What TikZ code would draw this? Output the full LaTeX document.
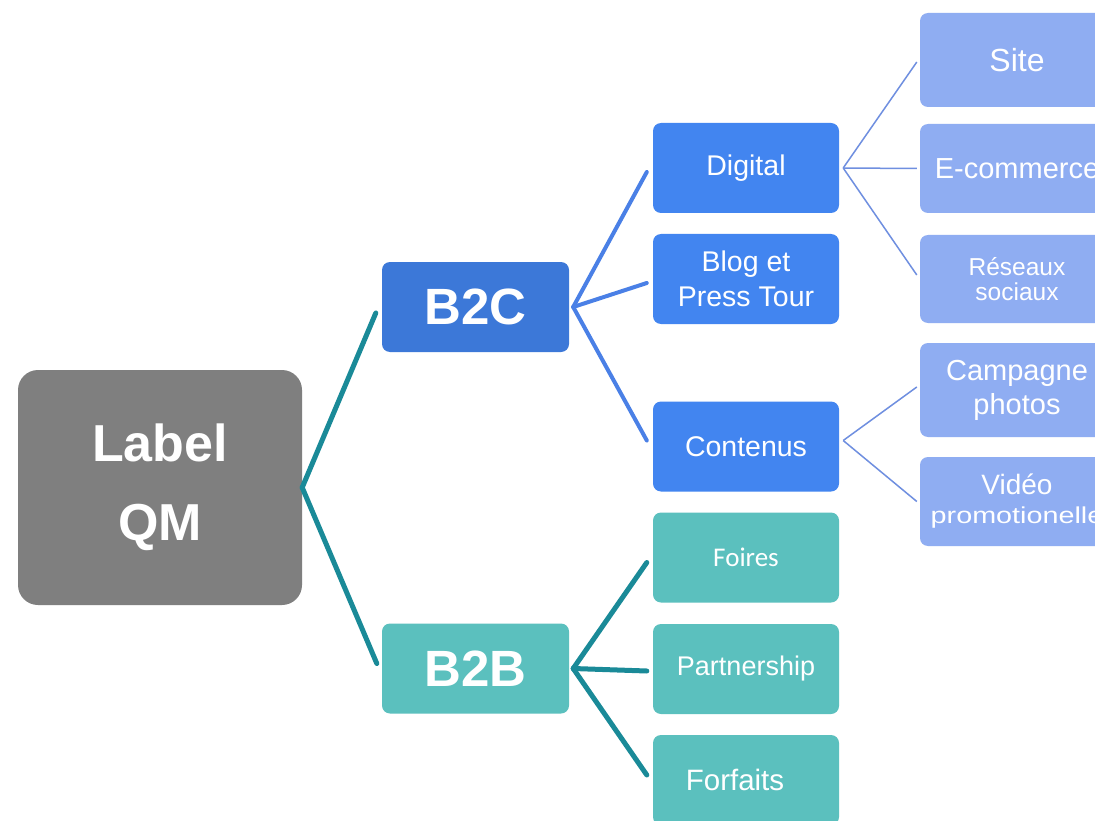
\documentclass[tikz,border=0pt]{standalone}
\usepackage{fontspec}
\setmainfont{Liberation Sans}
\newfontfamily\calfont{Carlito}

\definecolor{rootgray}{HTML}{7F7F7F}
\definecolor{b2cblue}{HTML}{3C78D8}
\definecolor{midblue}{HTML}{4285F0}
\definecolor{lightblue}{HTML}{8FADF2}
\definecolor{tealbox}{HTML}{5BC0BE}
\definecolor{tealline}{HTML}{1A8A98}
\definecolor{blueline}{HTML}{4A80E6}
\definecolor{thinline}{HTML}{6F8FE0}

\tikzset{
  box/.style={rectangle, rounded corners=8pt, text=white, align=center, inner sep=0pt},
  root/.style={box, fill=rootgray, minimum width=284pt, minimum height=235pt,
    rounded corners=20pt, font=\fontsize{52}{79}\selectfont\bfseries},
  hub/.style={box, minimum width=187pt, minimum height=90pt,
    font=\fontsize{51}{60}\selectfont\bfseries},
  leaf/.style={box, minimum width=186pt, minimum height=90pt,
    font=\fontsize{28.5}{35}\selectfont},
  sub/.style={box, fill=lightblue, minimum width=194pt,
    font=\fontsize{29}{34}\selectfont},
  teal link/.style={draw=tealline, line width=5pt, line cap=round},
  blue link/.style={draw=blueline, line width=4pt, line cap=round},
  thin link/.style={draw=thinline, line width=1.5pt},
}

\begin{document}
\begin{tikzpicture}[x=1pt, y=-1pt]
  \useasboundingbox (0,0) rectangle (1095,821);
  \clip (0,0) rectangle (1095,821);
  \fill[white] (0,0) rectangle (1095,821);

  % root
  \node[root] (qm) at (160,487.5) {Label\\QM};

  % first level
  \node[hub, fill=b2cblue] (b2c) at (475.5,307) {B2C};
  \node[hub, fill=tealbox] (b2b) at (475.5,668.5) {B2B};

  % second level, B2C side
  \node[leaf, fill=midblue] (digital) at (746,168) {Digital};
  \node[leaf, fill=midblue] (blog) at (746,279) {Blog et\\Press Tour};
  \node[leaf, fill=midblue] (contenus) at (746,446.5) {Contenus};

  % second level, B2B side
  \node[leaf, fill=tealbox, font=\calfont\fontsize{27}{32}\selectfont] (foires) at (746,557.5) {Foires};
  \node[leaf, fill=tealbox, font=\fontsize{27}{32}\selectfont] (partner) at (746,669) {Partnership};
  \node[leaf, fill=tealbox, font=\fontsize{29.5}{34}\selectfont] (forfaits) at (746,780) {Forfaits\hspace*{22pt}};

  % third level
  \node[sub, minimum height=94pt, font=\fontsize{32}{36}\selectfont] (site) at (1017,60) {Site};
  \node[sub, minimum height=89pt] (ecom) at (1017,168.5) {E-commerce};
  \node[sub, minimum height=88pt, font=\fontsize{24.5}{25}\selectfont] (reseaux) at (1017,279) {Réseaux\\sociaux};
  \node[sub, minimum height=94pt, font=\fontsize{29}{34}\selectfont] (campagne) at (1017,390) {Campagne\\photos};
  \node[sub, minimum height=89pt, font=\fontsize{28}{29}\selectfont] (video) at (1017,501.5)
    {Vidéo\\{\fontsize{23}{29}\selectfont\scalebox{1.25}[1]{promotionelle}}};

  % connectors
  \draw[teal link] (qm.east) -- ([xshift=-6pt, yshift=-6pt]b2c.west);
  \draw[teal link] (qm.east) -- ([xshift=-5pt, yshift=5pt]b2b.west);

  \draw[blue link] ([xshift=4pt]b2c.east) -- ([xshift=-6pt, yshift=-4pt]digital.west);
  \draw[blue link] ([xshift=4pt]b2c.east) -- ([xshift=-6pt, yshift=-4pt]blog.west);
  \draw[blue link] ([xshift=4pt]b2c.east) -- ([xshift=-6pt, yshift=6pt]contenus.west);

  \draw[teal link] ([xshift=4pt]b2b.east) -- ([xshift=-6pt, yshift=-5pt]foires.west);
  \draw[teal link] ([xshift=4pt]b2b.east) -- ([xshift=-6pt, yshift=-2pt]partner.west);
  \draw[teal link] ([xshift=4pt]b2b.east) -- ([xshift=-6pt, yshift=5pt]forfaits.west);

  \draw[thin link] ([xshift=4pt]digital.east) -- ([xshift=-3pt, yshift=-2pt]site.west);
  \draw[thin link] ([xshift=4pt]digital.east) -- ([xshift=-3pt]ecom.west);
  \draw[thin link] ([xshift=4pt]digital.east) -- ([xshift=-3pt, yshift=4pt]reseaux.west);

  \draw[thin link] ([xshift=4pt, yshift=6pt]contenus.east) -- ([xshift=-3pt, yshift=3pt]campagne.west);
  \draw[thin link] ([xshift=4pt, yshift=6pt]contenus.east) -- ([xshift=-3pt]video.west);
\end{tikzpicture}
\end{document}
